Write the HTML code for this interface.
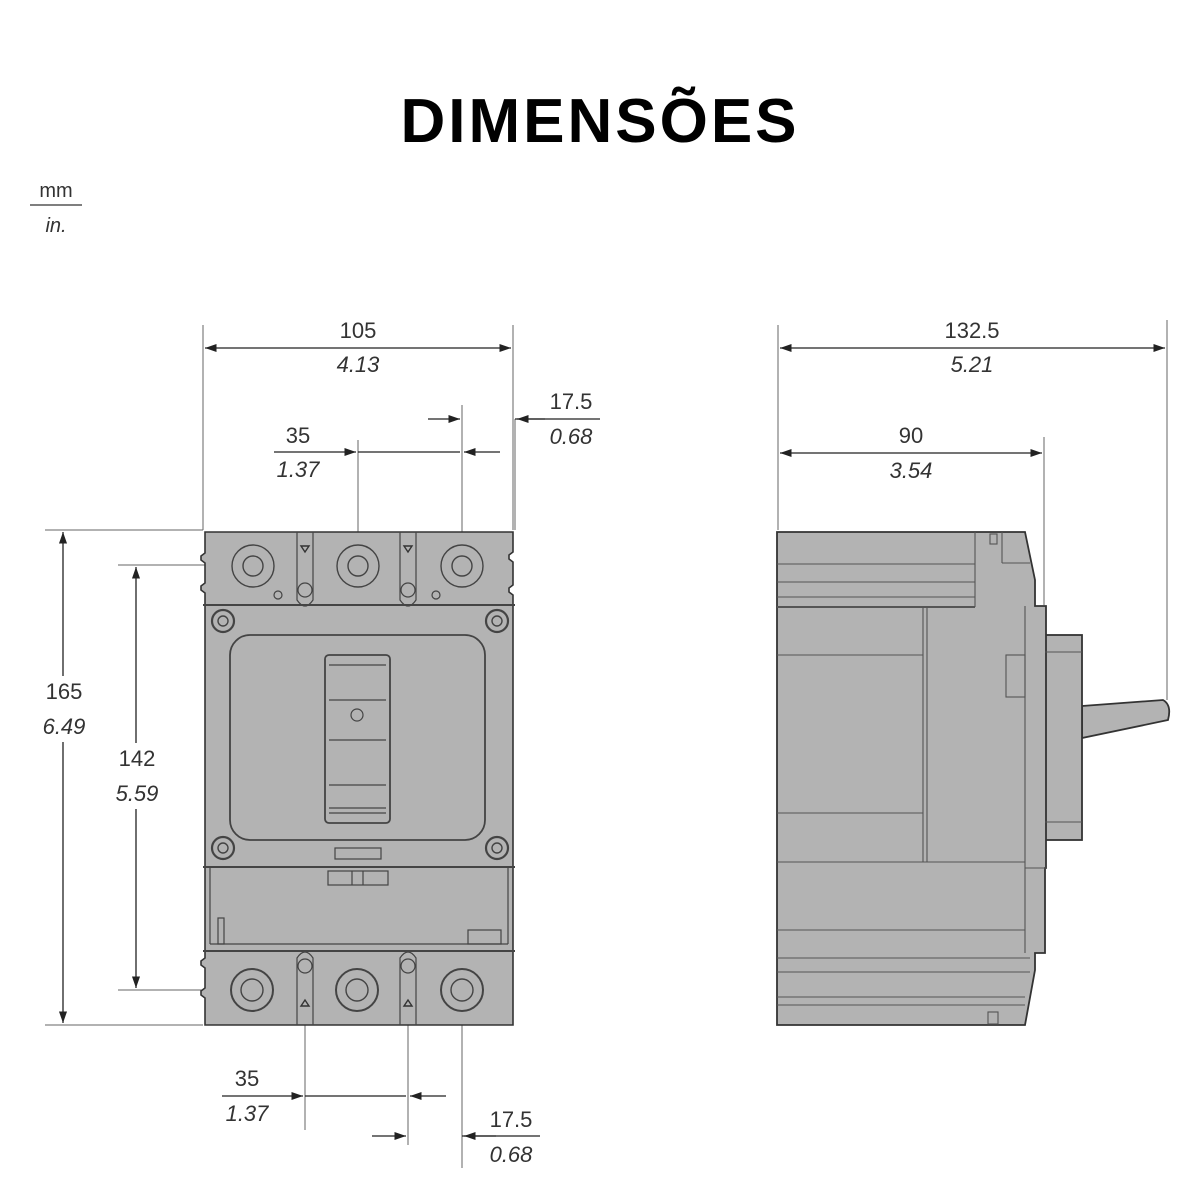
<!DOCTYPE html>
<html><head><meta charset="utf-8"><style>
html,body{margin:0;padding:0;background:#fff;width:1200px;height:1200px;overflow:hidden}
svg{display:block}
text{font-family:"Liberation Sans",Arial,sans-serif;fill:#333}
.t{font-size:22px}
.i{font-size:22px;font-style:italic}
</style></head><body>
<svg width="1200" height="1200" viewBox="0 0 1200 1200" xmlns="http://www.w3.org/2000/svg">
<defs>
<marker id="a" viewBox="0 0 10 10" refX="10" refY="5" markerWidth="9" markerHeight="9" orient="auto-start-reverse"><path d="M0,1.5 L10,5 L0,8.5z" fill="#222"/></marker>
</defs>
<text x="600" y="142" text-anchor="middle" style="font-size:62px;font-weight:bold;fill:#000;letter-spacing:3px">DIMENSÕES</text>
<text x="56" y="197" text-anchor="middle" style="font-size:20px">mm</text>
<line x1="30" y1="205" x2="82" y2="205" stroke="#555" stroke-width="1.5"/>
<text x="56" y="232" text-anchor="middle" style="font-size:20px;font-style:italic">in.</text>

<g stroke="#666" stroke-width="1" fill="none">
<line x1="203" y1="325" x2="203" y2="530"/><line x1="513" y1="325" x2="513" y2="530"/>
<line x1="358" y1="440" x2="358" y2="545"/><line x1="462" y1="405" x2="462" y2="545"/>
<line x1="515" y1="419" x2="515" y2="530"/>
<line x1="45" y1="530" x2="203" y2="530"/><line x1="45" y1="1025" x2="203" y2="1025"/>
<line x1="118" y1="565" x2="253" y2="565"/><line x1="118" y1="990" x2="253" y2="990"/>
<line x1="305" y1="990" x2="305" y2="1130"/><line x1="408" y1="990" x2="408" y2="1145"/>
<line x1="462" y1="990" x2="462" y2="1168"/>
<line x1="778" y1="325" x2="778" y2="530"/><line x1="1167" y1="320" x2="1167" y2="700"/>
<line x1="1044" y1="437" x2="1044" y2="605"/>
</g>
<g stroke="#222" stroke-width="1.3" fill="none">
<line x1="205" y1="348" x2="511" y2="348" marker-start="url(#a)" marker-end="url(#a)"/>
<line x1="428" y1="419" x2="460" y2="419" marker-end="url(#a)"/>
<line x1="545" y1="419" x2="517" y2="419" marker-end="url(#a)"/>
<line x1="515" y1="419" x2="600" y2="419"/>
<line x1="274" y1="452" x2="356" y2="452" marker-end="url(#a)"/>
<line x1="358" y1="452" x2="460" y2="452"/>
<line x1="500" y1="452" x2="464" y2="452" marker-end="url(#a)"/>
<line x1="63" y1="532" x2="63" y2="1023" marker-start="url(#a)" marker-end="url(#a)"/>
<line x1="136" y1="567" x2="136" y2="988" marker-start="url(#a)" marker-end="url(#a)"/>
<line x1="222" y1="1096" x2="303" y2="1096" marker-end="url(#a)"/>
<line x1="305" y1="1096" x2="406" y2="1096"/>
<line x1="446" y1="1096" x2="410" y2="1096" marker-end="url(#a)"/>
<line x1="372" y1="1136" x2="406" y2="1136" marker-end="url(#a)"/>
<line x1="496" y1="1136" x2="464" y2="1136" marker-end="url(#a)"/>
<line x1="462" y1="1136" x2="540" y2="1136"/>
<line x1="780" y1="348" x2="1165" y2="348" marker-start="url(#a)" marker-end="url(#a)"/>
<line x1="780" y1="453" x2="1042" y2="453" marker-start="url(#a)" marker-end="url(#a)"/>
</g>
<rect x="36" y="676" width="56" height="66" fill="#fff"/>
<rect x="108" y="743" width="58" height="66" fill="#fff"/>
<text class="t" x="358" y="338" text-anchor="middle">105</text>
<text class="i" x="358" y="372" text-anchor="middle">4.13</text>
<text class="t" x="571" y="409" text-anchor="middle">17.5</text>
<text class="i" x="571" y="444" text-anchor="middle">0.68</text>
<text class="t" x="298" y="443" text-anchor="middle">35</text>
<text class="i" x="298" y="477" text-anchor="middle">1.37</text>
<text class="t" x="64" y="699" text-anchor="middle">165</text>
<text class="i" x="64" y="734" text-anchor="middle">6.49</text>
<text class="t" x="137" y="766" text-anchor="middle">142</text>
<text class="i" x="137" y="801" text-anchor="middle">5.59</text>
<text class="t" x="247" y="1086" text-anchor="middle">35</text>
<text class="i" x="247" y="1121" text-anchor="middle">1.37</text>
<text class="t" x="511" y="1127" text-anchor="middle">17.5</text>
<text class="i" x="511" y="1162" text-anchor="middle">0.68</text>
<text class="t" x="972" y="338" text-anchor="middle">132.5</text>
<text class="i" x="972" y="372" text-anchor="middle">5.21</text>
<text class="t" x="911" y="443" text-anchor="middle">90</text>
<text class="i" x="911" y="478" text-anchor="middle">3.54</text>

<g stroke="#333" stroke-width="1.6" fill="#b3b3b3">
<path d="M205,532 H513 V552 L509,555 V559 L513,562 V585 L509,588 V592 L513,595 V1025 H205 V998 L201,995 V991 L205,988 V968 L201,965 V961 L205,958 V593 L201,590 V586 L205,583 V563 L201,560 V556 L205,553 Z"/>
</g>
<g stroke="#444" stroke-width="1.2" fill="none">
<line x1="203" y1="605" x2="515" y2="605" stroke-width="2"/>
<line x1="203" y1="867" x2="515" y2="867" stroke-width="2"/>
<line x1="203" y1="951" x2="515" y2="951" stroke-width="2"/>
<line x1="210" y1="944" x2="508" y2="944"/>
<line x1="210" y1="867" x2="210" y2="944"/><line x1="508" y1="867" x2="508" y2="944"/>
<rect x="468" y="930" width="33" height="14"/>
<rect x="218" y="918" width="6" height="26"/>
<rect x="230" y="635" width="255" height="205" rx="20" stroke-width="1.8"/>
<rect x="325" y="655" width="65" height="168" rx="4" stroke-width="1.8"/>
<line x1="329" y1="665" x2="386" y2="665"/><line x1="329" y1="700" x2="386" y2="700"/>
<line x1="329" y1="740" x2="386" y2="740"/><line x1="329" y1="785" x2="386" y2="785"/>
<line x1="329" y1="808" x2="386" y2="808"/><line x1="329" y1="813" x2="386" y2="813"/>
<circle cx="357" cy="715" r="6"/>
<rect x="335" y="848" width="46" height="11"/>
<rect x="328" y="871" width="60" height="14"/><line x1="352" y1="871" x2="352" y2="885"/><line x1="363" y1="871" x2="363" y2="885"/>
<path d="M297,532 V600 Q305,612 313,600 V532"/>
<path d="M400,532 V600 Q408,612 416,600 V532"/>
<path d="M297,1025 V958 Q305,946 313,958 V1025"/>
<path d="M400,1025 V958 Q408,946 416,958 V1025"/>
<circle cx="305" cy="590" r="7"/><circle cx="408" cy="590" r="7"/>
<circle cx="305" cy="966" r="7"/><circle cx="408" cy="966" r="7"/>
<circle cx="278" cy="595" r="4"/><circle cx="436" cy="595" r="4"/>
</g>
<g stroke="#333" stroke-width="1.4" fill="#b3b3b3">
<path d="M301,546 h8 l-4,6z"/><path d="M404,546 h8 l-4,6z"/>
<path d="M301,1006 h8 l-4,-6z"/><path d="M404,1006 h8 l-4,-6z"/>
</g>
<g stroke="#444" stroke-width="1.4" fill="none">
<circle cx="253" cy="566" r="21"/><circle cx="253" cy="566" r="10"/>
<circle cx="358" cy="566" r="21"/><circle cx="358" cy="566" r="10"/>
<circle cx="462" cy="566" r="21"/><circle cx="462" cy="566" r="10"/>
<circle cx="252" cy="990" r="21" stroke-width="2"/><circle cx="252" cy="990" r="11"/>
<circle cx="357" cy="990" r="21" stroke-width="2"/><circle cx="357" cy="990" r="11"/>
<circle cx="462" cy="990" r="21" stroke-width="2"/><circle cx="462" cy="990" r="11"/>
<circle cx="223" cy="621" r="11" stroke-width="2.2"/><circle cx="223" cy="621" r="5"/>
<circle cx="497" cy="621" r="11" stroke-width="2.2"/><circle cx="497" cy="621" r="5"/>
<circle cx="223" cy="848" r="11" stroke-width="2.2"/><circle cx="223" cy="848" r="5"/>
<circle cx="497" cy="848" r="11" stroke-width="2.2"/><circle cx="497" cy="848" r="5"/>
</g>

<g stroke="#333" stroke-width="1.8" fill="#b3b3b3">
<path d="M1082,706 L1163,700 Q1172,705 1168,720 L1082,738 Z"/>
<rect x="1045" y="635" width="37" height="205"/>
<path d="M777,532 H1025 L1035,580 V606 H1046 V868 H1045 V953 H1035 V970 L1025,1025 H777 Z"/>
</g>
<g stroke="#555" stroke-width="1.1" fill="none">
<line x1="1025" y1="606" x2="1025" y2="953"/>
<line x1="1025" y1="868" x2="1046" y2="868"/>
<line x1="777" y1="564" x2="975" y2="564"/><line x1="777" y1="582" x2="975" y2="582"/>
<line x1="777" y1="597" x2="975" y2="597"/>
<line x1="777" y1="607" x2="975" y2="607" stroke-width="2"/><line x1="975" y1="532" x2="975" y2="607"/>
<line x1="1002" y1="563" x2="1030" y2="563"/><line x1="1002" y1="532" x2="1002" y2="563"/>
<rect x="990" y="534" width="7" height="10"/>
<line x1="777" y1="655" x2="923" y2="655"/><line x1="777" y1="813" x2="923" y2="813"/>
<line x1="923" y1="607" x2="923" y2="862"/><line x1="927" y1="607" x2="927" y2="862"/>
<line x1="777" y1="862" x2="1025" y2="862"/>
<line x1="1045" y1="652" x2="1082" y2="652"/><line x1="1045" y1="822" x2="1082" y2="822"/>
<rect x="1006" y="655" width="19" height="42"/>
<line x1="777" y1="930" x2="1025" y2="930"/><line x1="777" y1="958" x2="1030" y2="958"/>
<line x1="777" y1="972" x2="1030" y2="972"/><line x1="777" y1="997" x2="1025" y2="997"/>
<line x1="777" y1="1005" x2="1025" y2="1005"/>
<rect x="988" y="1012" width="10" height="12"/>
</g>
</svg>
</body></html>
